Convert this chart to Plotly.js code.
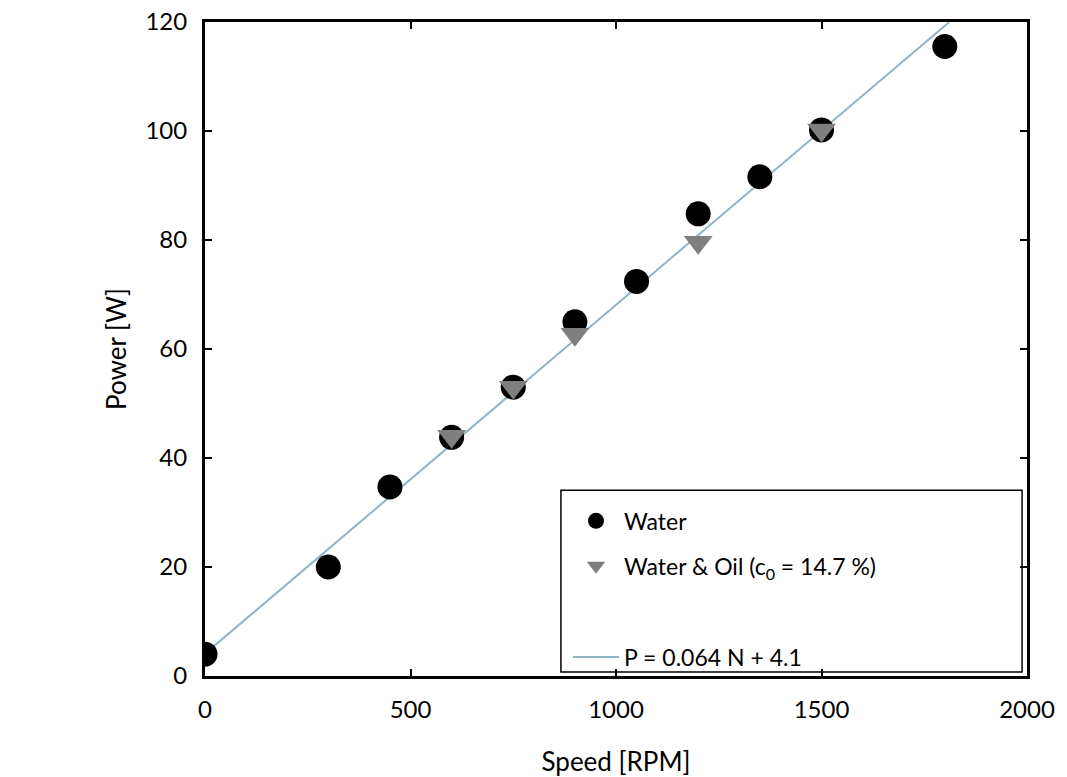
<!DOCTYPE html>
<html>
<head>
<meta charset="utf-8">
<script src="https://cdn.plot.ly/plotly-3.0.1.min.js"></script>
<style>html,body{margin:0;padding:0;background:#fff;}#chart{width:1067px;height:777px;}</style>
</head>
<body>
<div id="chart"></div>
<script>
// Data
const waterSpeed = [0, 300, 450, 600, 750, 900, 1050, 1200, 1350, 1500, 1800];
const waterPower = [4, 20, 34.7, 43.8, 53, 65, 72.4, 84.8, 91.6, 100.2, 115.5];
const oilSpeed = [600, 750, 900, 1200, 1500];
const oilPower = [44, 53, 62.7, 79.6, 100.2];
const fitSpeed = [0, 1811];
const fitPower = [4.1, 120];
const xTicks = [0, 500, 1000, 1500, 2000];
const yTicks = [0, 20, 40, 60, 80, 100, 120];

const FONT = 'Lato, Open Sans, sans-serif';

const traces = [
  {
    x: fitSpeed, y: fitPower, mode: 'lines', name: 'P = 0.064 N + 4.1',
    line: {color: '#90b3c4', width: 2}, legend: 'legend2'
  },
  {
    x: waterSpeed, y: waterPower, mode: 'markers', name: 'Water',
    marker: {symbol: 'circle', size: 25, color: '#000000'},
    legendgroup: 'a', legendrank: 1
  },
  {
    x: oilSpeed, y: oilPower, mode: 'markers', name: 'Water &amp; Oil (c<sub>0</sub> = 14.7 %)',
    marker: {symbol: 'triangle-down', size: 25, color: '#7f7f7f'},
    legendgroup: 'b', legendrank: 2
  }
];

const legFont = {family: FONT, size: 23, color: '#000'};

const layout = {
  width: 1067, height: 777,
  margin: {l: 205, r: 40, t: 22, b: 101},
  paper_bgcolor: '#ffffff', plot_bgcolor: '#ffffff',
  font: {family: FONT, color: '#000', size: 24},
  showlegend: true,
  legend: {
    x: 0.4416, y: 0.27, xanchor: 'left', yanchor: 'top',
    borderwidth: 0, bgcolor: 'rgba(0,0,0,0)',
    font: legFont, tracegroupgap: 12, traceorder: 'grouped', itemsizing: 'trace',
    itemwidth: 46
  },
  legend2: {
    x: 0.4416, y: 0.062, xanchor: 'left', yanchor: 'top',
    borderwidth: 0, bgcolor: 'rgba(0,0,0,0)',
    font: legFont, itemwidth: 46
  },
  shapes: [
    {type: 'rect', xref: 'paper', yref: 'paper', x0: 0.433, x1: 0.994, y0: 0.006, y1: 0.284,
     line: {color: '#000', width: 1.5}, fillcolor: 'rgba(255,255,255,0)', layer: 'above'}
  ],
  xaxis: {
    range: [0, 2000], tickvals: xTicks, ticktext: xTicks.map(String),
    ticks: 'inside', ticklen: 7, tickwidth: 2, tickcolor: '#000',
    showline: true, linecolor: '#000', linewidth: 3, mirror: 'ticks',
    showgrid: false, zeroline: false, ticklabelstandoff: 10,
    tickfont: {family: FONT, size: 24, color: '#000'},
    title: {text: 'Speed [RPM]', font: {family: FONT, size: 26, color: '#000'}, standoff: 32}
  },
  yaxis: {
    range: [0, 120], tickvals: yTicks, ticktext: yTicks.map(String),
    ticks: 'inside', ticklen: 7, tickwidth: 2, tickcolor: '#000',
    showline: true, linecolor: '#000', linewidth: 3, mirror: 'ticks',
    showgrid: false, zeroline: false, ticklabelstandoff: 10,
    tickfont: {family: FONT, size: 24, color: '#000'},
    title: {text: 'Power [W]', font: {family: FONT, size: 26, color: '#000'}, standoff: 12}
  }
};

Plotly.newPlot('chart', traces, layout, {displayModeBar: false, staticPlot: true});
</script>
</body>
</html>
